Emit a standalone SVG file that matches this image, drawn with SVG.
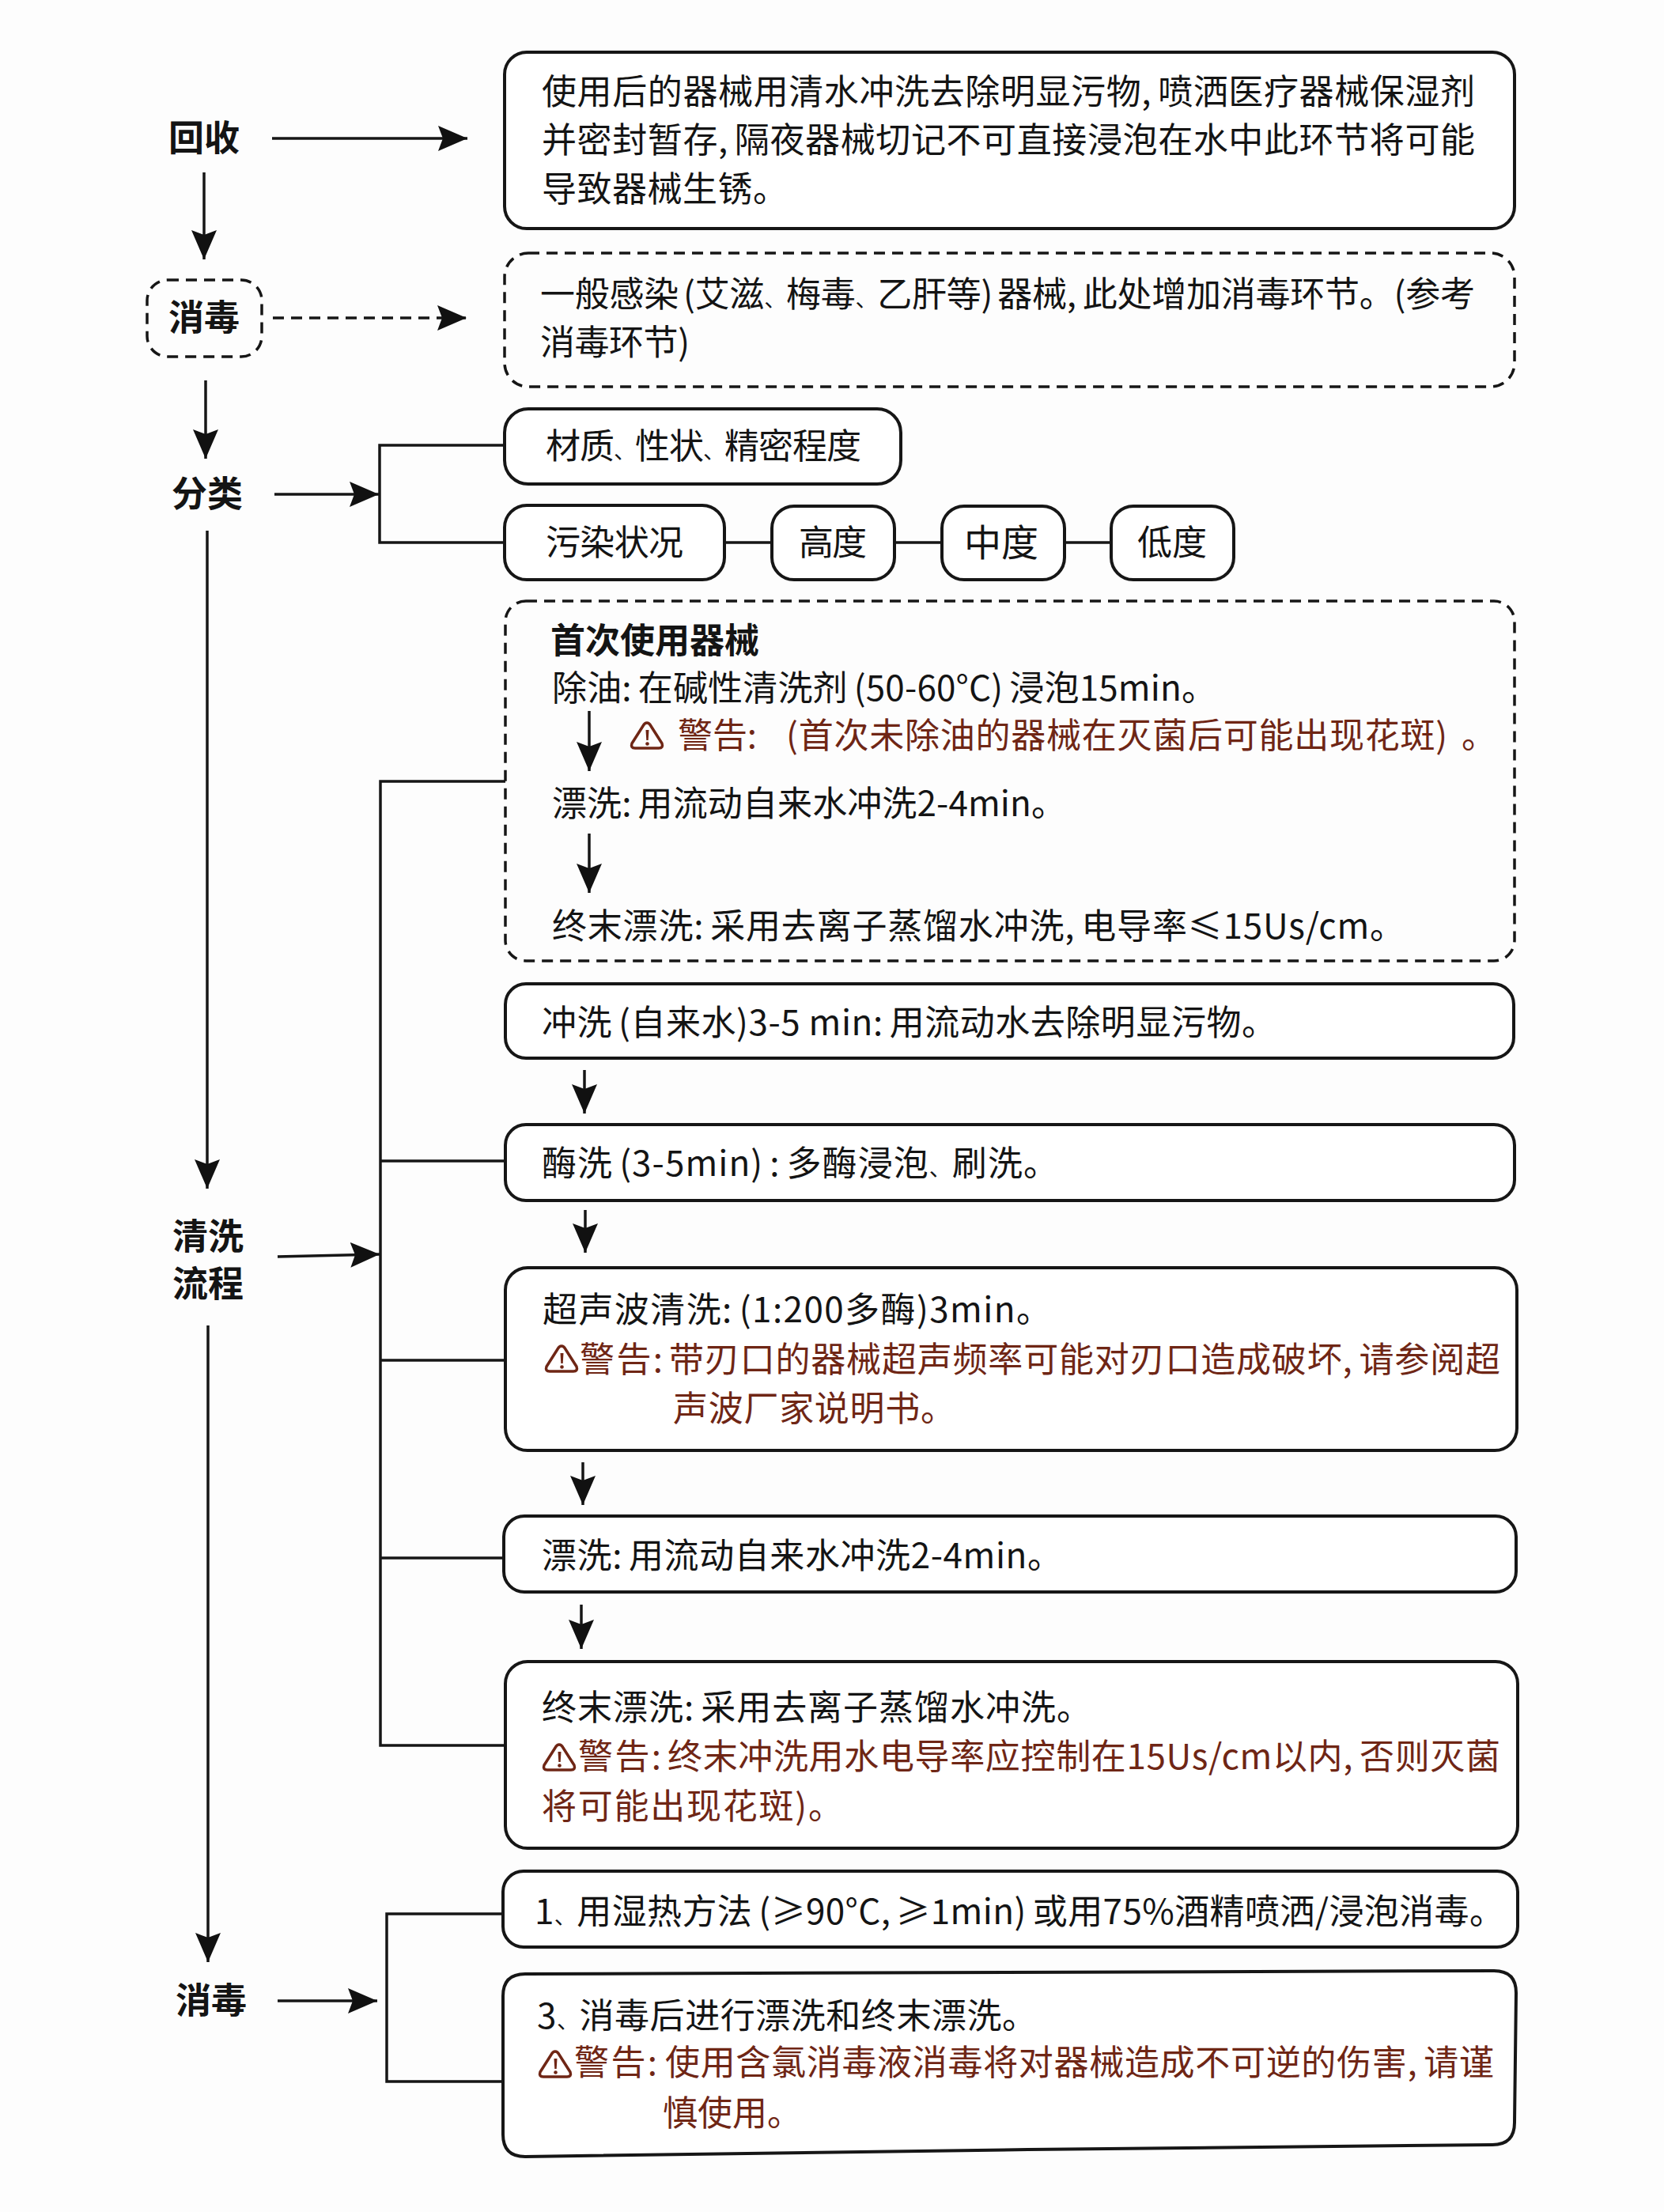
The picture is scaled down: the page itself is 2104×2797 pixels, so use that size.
<svg xmlns="http://www.w3.org/2000/svg" xmlns:xlink="http://www.w3.org/1999/xlink" width="2104" height="2797" viewBox="0 0 2104 2797">
<style>
text{font-family:"Noto Sans CJK SC","Noto Sans",sans-serif;font-size:44px;fill:#141414}
.lab{font-weight:700;font-size:45px;text-anchor:middle}
.b{font-weight:700}
.w{fill:#6f2615}
.box{fill:#fff;stroke:#161616;stroke-width:4}
.dash{fill:none;stroke:#161616;stroke-width:3.500;stroke-dasharray:14 9}
.c{fill:none;stroke:#161616;stroke-width:3.500}
.a{marker-end:url(#ah)}
.ad{stroke-dasharray:14 9}
.ic{fill:none;stroke:#6f2615;stroke-width:3.500;stroke-linejoin:round}
.icf{fill:#6f2615}
.n{font-size:28px}
</style>
<defs>
<marker id="ah" markerUnits="userSpaceOnUse" markerWidth="38" markerHeight="34" refX="37" refY="17" orient="auto"><path d="M0,1 L37,17 L0,33 L6,17 Z" fill="#111"/></marker>
<g id="warn"><path class="ic" d="M21,2 Q24,2 26,6 L40,28 Q42,34 36,34 L6,34 Q0,34 2,28 L16,6 Q18,2 21,2 Z"/><path class="icf" d="M19.500,11 h4 l-0.800,13 h-2.400 Z"/><circle class="icf" cx="21.500" cy="28.500" r="2.300"/></g>
</defs>
<rect width="2104" height="2797" fill="#fdfdfd"/>
<g id="connectors">
<path class="c a" d="M344,175 H591"/>
<path class="c a" d="M258,218 V328"/>
<path class="c a ad" d="M345,402 H590"/>
<path class="c a" d="M260,481 V580"/>
<path class="c a" d="M347,625 H479"/>
<path class="c" d="M638,563 H480 V686 H638"/>
<path class="c" d="M916,686 H976 M1131,686 H1191 M1346,686 H1405"/>
<path class="c a" d="M262,671 V1503"/>
<path class="c a" d="M351,1589 L480,1586"/>
<path class="c" d="M639,988 H481 V2207 H639 M481,1468 H639 M481,1720 H639 M481,1970 H639"/>
<path class="c a" d="M745,899 V975"/>
<path class="c a" d="M745,1054 V1129"/>
<path class="c a" d="M739,1353 V1408"/>
<path class="c a" d="M740,1530 V1584"/>
<path class="c a" d="M737,1849 V1903"/>
<path class="c a" d="M735,2029 V2085"/>
<path class="c a" d="M263,1676 V2481"/>
<path class="c a" d="M351,2530 H477"/>
<path class="c" d="M638,2420 H489 V2632 H638"/>
</g>
<g id="label-huishou"><text class="lab" x="258" y="191">回收</text></g>
<g id="label-xiaodu1"><rect class="dash" x="186" y="354" width="145" height="97" rx="26"/><text class="lab" x="258" y="418">消毒</text></g>
<g id="label-fenlei"><text class="lab" x="262" y="641">分类</text></g>
<g id="label-qingxi"><text class="lab" x="263" y="1580">清洗</text><text class="lab" x="263" y="1640">流程</text></g>
<g id="label-xiaodu2"><text class="lab" x="267" y="2546">消毒</text></g>
<g id="box-recycle"><rect class="box" x="638" y="66" width="1277" height="223" rx="28"/>
<text x="685" y="132" textLength="1180">使用后的器械用清水冲洗去除明显污物,<tspan dx="8">喷</tspan>洒医疗器械保湿剂</text>
<text x="685" y="193" textLength="1180">并密封暂存,<tspan dx="8">隔</tspan>夜器械切记不可直接浸泡在水中此环节将可能</text>
<text x="685" y="255" textLength="311">导致器械生锈。</text></g>
<g id="box-disinfect-note"><rect class="dash" x="638" y="320" width="1277" height="169" rx="30"/>
<text x="683" y="388" textLength="1182">一般感染<tspan dx="6">(</tspan>艾滋<tspan class="n">、</tspan>梅毒<tspan class="n">、</tspan>乙肝等)<tspan dx="6">器</tspan>械,<tspan dx="8">此</tspan>处增加消毒环节。(参考</text>
<text x="683" y="449" textLength="189">消毒环节)</text></g>
<g id="box-material"><rect class="box" x="638" y="517" width="501" height="95" rx="30"/><text x="690" y="580" textLength="399">材质<tspan class="n">、</tspan>性状<tspan class="n">、</tspan>精密程度</text></g>
<g id="box-pollution"><rect class="box" x="638" y="639" width="278" height="94" rx="28"/><text x="690" y="702" textLength="174">污染状况</text></g>
<g id="box-high"><rect class="box" x="976" y="640" width="155" height="93" rx="28"/><text x="1010" y="702" textLength="86">高度</text></g>
<g id="box-mid"><rect class="box" x="1191" y="640" width="155" height="93" rx="28"/><text x="1219" y="703" style="font-size:47px">中度</text></g>
<g id="box-low"><rect class="box" x="1405" y="640" width="155" height="93" rx="28"/><text x="1438" y="702" textLength="88">低度</text></g>
<g id="box-first-use"><rect class="dash" x="639" y="760" width="1276" height="455" rx="26"/>
<text class="b" x="696" y="826" textLength="264">首次使用器械</text>
<text x="698" y="886" textLength="840">除油:<tspan dx="8">在</tspan>碱性清洗剂<tspan dx="8">(</tspan>50-60°C)<tspan dx="8">浸</tspan>泡15min。</text>
<use xlink:href="#warn" x="797" y="912"/>
<text class="w" x="857" y="946" textLength="100">警告:</text>
<text class="w" x="994" y="946" textLength="836">(首次未除油的器械在灭菌后可能出现花斑)</text>
<text class="w" x="1848" y="946">。</text>
<text x="698" y="1032" textLength="650">漂洗:<tspan dx="8">用</tspan>流动自来水冲洗2-4min。</text>
<text x="698" y="1187" textLength="1078">终末漂洗:<tspan dx="8">采</tspan>用去离子蒸馏水冲洗,<tspan dx="8">电</tspan>导率≤15Us/cm。</text></g>
<g id="box-rinse"><rect class="box" x="639" y="1244" width="1275" height="94" rx="26"/><text x="685" y="1309" textLength="929">冲洗<tspan dx="8">(</tspan>自来水)3-5 min:<tspan dx="8">用</tspan>流动水去除明显污物。</text></g>
<g id="box-enzyme"><rect class="box" x="639" y="1422" width="1276" height="96" rx="26"/><text x="685" y="1487" textLength="653">酶洗<tspan dx="8">(</tspan>3-5min)<tspan dx="8">:</tspan><tspan dx="8">多</tspan>酶浸泡<tspan class="n">、</tspan>刷洗。</text></g>
<g id="box-ultrasonic"><rect class="box" x="639" y="1603" width="1279" height="231" rx="28"/>
<text x="686" y="1672" textLength="643">超声波清洗:<tspan dx="8">(</tspan>1:200多酶)3min。</text>
<use xlink:href="#warn" x="689" y="1700"/>
<text class="w" x="733" y="1735" textLength="105">警告:</text>
<text class="w" x="846" y="1735" textLength="1051">带刃口的器械超声频率可能对刃口造成破坏,<tspan dx="8">请</tspan>参阅超</text>
<text class="w" x="851" y="1797" textLength="357">声波厂家说明书。</text></g>
<g id="box-rinse2"><rect class="box" x="637" y="1917" width="1280" height="96" rx="26"/><text x="685" y="1983" textLength="658">漂洗:<tspan dx="8">用</tspan>流动自来水冲洗2-4min。</text></g>
<g id="box-final"><rect class="box" x="639" y="2101" width="1280" height="236" rx="28"/>
<text x="685" y="2175" textLength="695">终末漂洗:<tspan dx="8">采</tspan>用去离子蒸馏水冲洗。</text>
<use xlink:href="#warn" x="686" y="2204"/>
<text class="w" x="731" y="2237" textLength="105">警告:</text>
<text class="w" x="844" y="2237" textLength="1053">终末冲洗用水电导率应控制在15Us/cm以内,<tspan dx="8">否</tspan>则灭菌</text>
<text class="w" x="685" y="2300" textLength="381">将可能出现花斑)。</text></g>
<g id="box-heat"><rect class="box" x="636" y="2366" width="1283" height="96" rx="26"/><text x="676" y="2433" textLength="1226">1<tspan class="n">、</tspan>用湿热方法<tspan dx="8">(</tspan>≥90°C,<tspan dx="6">≥</tspan>1min)<tspan dx="8">或</tspan>用75%酒精喷洒/浸泡消毒。</text></g>
<g id="box-after"><path class="box" d="M664,2496 L1889,2492 Q1917,2492 1917,2520 L1915,2684 Q1915,2712 1887,2712 L1300,2718 L664,2727 Q636,2727 636,2699 L636,2524 Q636,2496 664,2496 Z"/>
<text x="679" y="2565" textLength="632">3<tspan class="n">、</tspan>消毒后进行漂洗和终末漂洗。</text>
<use xlink:href="#warn" x="681" y="2592"/>
<text class="w" x="726" y="2624" textLength="105">警告:</text>
<text class="w" x="841" y="2624" textLength="1048">使用含氯消毒液消毒将对器械造成不可逆的伤害,<tspan dx="8">请</tspan>谨</text>
<text class="w" x="838" y="2688" textLength="176">慎使用。</text></g>
</svg>
